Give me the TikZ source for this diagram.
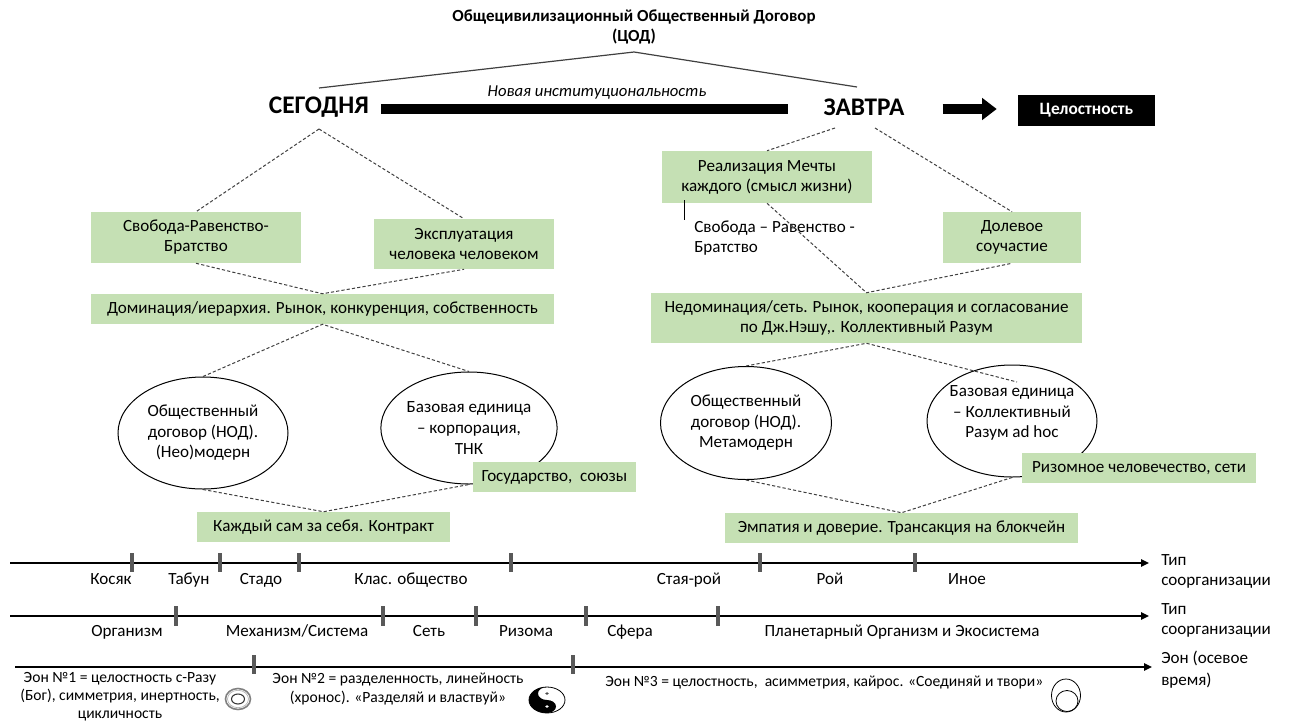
\documentclass[tikz,border=0pt]{standalone}
\usepackage{fontspec}
\setmainfont{Carlito}
\usetikzlibrary{shapes.geometric,arrows.meta,calc}
\definecolor{gfill}{HTML}{C5E0B4}
\definecolor{dashc}{HTML}{404040}
\definecolor{tickc}{HTML}{595959}
\begin{document}
\begin{tikzpicture}[x=0.75pt,y=-0.75pt,
  txt/.style={font=\fontsize{12.8}{15}\selectfont, align=center, inner sep=0pt, text=black},
  smalltxt/.style={font=\fontsize{11.7}{13.6}\selectfont, align=center, inner sep=0pt},
  bx/.style 2 args={txt, fill=gfill, minimum width=#1*0.75pt, minimum height=#2*0.75pt},
  one/.style={text height=9.2pt, text depth=2.6pt},
  ell/.style 2 args={ellipse, draw=black, line width=0.75pt, inner sep=0pt, minimum width=#1*0.75pt, minimum height=#2*0.75pt, align=center, font=\fontsize{12.8}{15.4}\selectfont},
  dsh/.style={draw=dashc, dash pattern=on 2.4pt off 1.6pt, line width=0.75pt},
  thinln/.style={draw=dashc, line width=0.9pt},
  big/.style={font=\bfseries\fontsize{19}{22}\selectfont, inner sep=0pt},
  tl/.style={draw=black, line width=1.1pt, -{Triangle[length=6pt,width=5.5pt]}},
  tk/.style={draw=tickc, line width=2.4pt},
  lbl/.style={txt, one},
  rlbl/.style={txt, align=left, anchor=west},
]
\useasboundingbox (0,0) rectangle (1293,722);

% ---- top ----
\node[font=\bfseries\fontsize{12.7}{15}\selectfont, align=center, inner sep=0pt] (title) at (634,27) {Общецивилизационный Общественный Договор\\(ЦОД)};
\coordinate (tapex) at (634,52);
\node[big] (seg) at (319,107) {СЕГОДНЯ};
\node[big] (zav) at (864,107) {ЗАВТРА};
\node[txt, font=\itshape\fontsize{12.5}{15}\selectfont] (nov) at (597,93) {Новая институциональность};
\node[txt, one, fill=black, text=white, font=\bfseries\fontsize{13}{15}\selectfont, minimum width=137*0.75pt, minimum height=31*0.75pt] (tsel) at (1086.5,110.5) {Целостность};

\draw[thinln] ($(seg.center)+(0,-19)$) -- (tapex) -- ($(zav.center)+(-7,-20)$);
\draw[line width=7.5pt] ($(seg.center)+(62,2)$) -- ($(zav.center)+(-76,2)$);
\draw[line width=7.5pt, -{Triangle[length=11pt,width=16pt]}] ($(tsel.west)+(-75,-1.5)$) -- ($(tsel.west)+(-21,-1.5)$);

\coordinate (segB) at ($(seg.center)+(0,22)$);
\coordinate (zavL) at ($(zav.center)+(-29,21)$);
\coordinate (zavR) at ($(zav.center)+(11,21)$);

% ---- left boxes ----
\node[bx={210}{51}] (b1) at (196,237.5) {Свобода-Равенство-\\Братство};
\node[bx={180}{50}] (b2) at (464,244) {Эксплуатация\\человека человеком};
\node[bx={463}{30}, one] (dom) at (322.5,309) {Доминация/иерархия. Рынок, конкуренция, собственность};
\node[ell={170}{112}] (e1) at (203,433) {Общественный\\договор (НОД).\\(Нео)модерн};
\node[ell={172}{112}] (e2) at (469,428) {Базовая единица\\– корпорация,\\ТНК};
\node[bx={253}{30}, one] (kaz) at (323.5,527) {Каждый сам за себя. Контракт};

\draw[dsh] (segB) -- (b1.north);
\draw[dsh] (segB) -- (b2.north);
\draw[dsh] (b1.south) -- (dom.north) -- (b2.south);
\draw[dsh] (e1.north) -- (dom.south) -- (e2.north);
\draw[dsh] (e1.south) -- (kaz.north) -- (e2.south);

\node[bx={163}{30}, one] (gos) at (554.5,477) {Государство,\ \ союзы};

% ---- right boxes ----
\node[bx={210}{52}] (real) at (767,177) {Реализация Мечты\\каждого (смысл жизни)};
\node[bx={138}{51}] (dol) at (1012,237.5) {Долевое\\соучастие};
\node[txt, align=left, anchor=west] (svb) at (694,238.5) {Свобода – Равенство -\\Братство};
\node[bx={431}{50}] (ned) at (866.5,318) {Недоминация/сеть. Рынок, кооперация и согласование\\по Дж.Нэшу,. Коллективный Разум};
\node[ell={171}{113}] (e3) at (746,423) {Общественный\\договор (НОД).\\Метамодерн};
\node[ell={170}{112}] (e4) at (1012,421) {};
\node[txt, font=\fontsize{12.8}{15.4}\selectfont] (e4t) at (1012,413) {Базовая единица\\– Коллективный\\Разум ad hoc};
\node[bx={353}{30}, one] (emp) at (901.5,528) {Эмпатия и доверие. Трансакция на блокчейн};
\coordinate (nedEnd) at (1017,382);

\draw[dsh] (zavL) -- (real.north);
\draw[dsh] (zavR) -- (dol.north);
\draw[dsh] (real.south) -- (ned.north) -- (dol.south);
\draw[dsh] (e3.north) -- (ned.south) -- (nedEnd);
\draw[dsh] (e3.south) -- (emp.north) -- (e4.south);
\draw[line width=0.75pt] ($(real.south west)+(23,-3)$) -- ++(0,20);

\node[bx={234}{30}, one] (riz) at (1139,468) {Ризомное человечество, сети};

% ---- timeline 1 ----
\draw[tl] (10,563) -- (1149,563);
\foreach \x in {132,220,299,511,760,915} \draw[tk] (\x,553) -- (\x,572);
\node[lbl] (l11) at (111,580) {Косяк};
\node[lbl] (l12) at (189,580) {Табун};
\node[lbl] (l13) at (261,580) {Стадо};
\node[lbl] (l14) at (411,580) {Клас. общество};
\node[lbl] (l15) at (689,580) {Стая-рой};
\node[lbl] (l16) at (830,580) {Рой};
\node[lbl] (l17) at (967,580) {Иное};
\node[rlbl] (r1) at (1161,571) {Тип\\соорганизации};

% ---- timeline 2 ----
\draw[tl] (10,616) -- (1149,616);
\foreach \x in {176,383,476,586,718} \draw[tk] (\x,606) -- (\x,626);
\node[lbl] (l21) at (127,632) {Организм};
\node[lbl] (l22) at (297,632) {Механизм/Система};
\node[lbl] (l23) at (429,632) {Сеть};
\node[lbl] (l24) at (526,632) {Ризома};
\node[lbl] (l25) at (630,632) {Сфера};
\node[lbl] (l26) at (902,632) {Планетарный Организм и Экосистема};
\node[rlbl] (r2) at (1161,620.5) {Тип\\соорганизации};

% ---- timeline 3 ----
\draw[tl] (15,667) -- (1152,667);
\foreach \x in {254,573} \draw[tk] (\x,655) -- (\x,674);
\node[rlbl, font=\fontsize{12.8}{16.5}\selectfont] (r3) at (1161,670) {Эон (осевое\\время)};
\node[smalltxt] (eon1) at (120,696.5) {Эон №1 = целостность с-Разу\\(Бог), симметрия, инертность,\\цикличность};
\node[smalltxt] (eon2) at (398,689) {Эон №2 = разделенность, линейность\\(хронос). «Разделяй и властвуй»};
\node[smalltxt, anchor=west, one] (eon3) at (605,682) {Эон №3 = целостность,\ \ асимметрия, кайрос. «Соединяй и твори»};

% ---- symbols ----
\draw[gray, line width=1.2pt] (238,699) ellipse [x radius=12.5, y radius=10.5];
\draw[gray!60, line width=0.5pt] (238,699) ellipse [x radius=10.5, y radius=8.7];
\draw[black!80, line width=0.8pt] (238,699) ellipse [x radius=6.5, y radius=5];

\begin{scope}[shift={(547,700)}, x=13.5pt, y=9.75pt]
  \fill[black] (0,1) arc[start angle=90,end angle=270,radius=1]
     arc[start angle=-90,end angle=90,radius=0.5]
     arc[start angle=270,end angle=90,radius=0.5] -- cycle;
  \draw[black, line width=0.6pt] (0,0) circle[radius=1];
  \fill[white] (0,-0.5) circle[radius=0.1];
  \fill[black!70] (0,0.5) circle[radius=0.1];
\end{scope}

\draw[black, line width=0.6pt] (1066,695.5) ellipse [x radius=14.5, y radius=16.5];
\draw[black, line width=0.6pt] (1067,701) ellipse [x radius=11, y radius=10.5];
\end{tikzpicture}
\end{document}
